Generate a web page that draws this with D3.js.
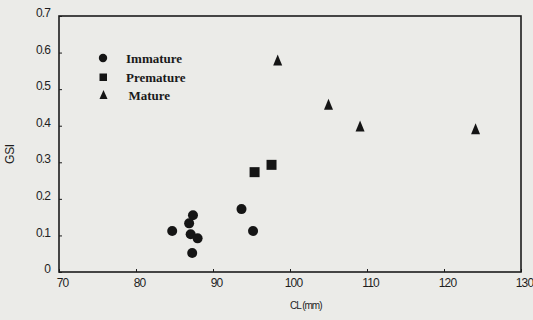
<!DOCTYPE html>
<html><head><meta charset="utf-8">
<script src="https://cdn.jsdelivr.net/npm/d3@7"></script>
<style>html,body{margin:0;padding:0;background:#ebebe8;}svg{display:block;}</style>
</head><body>
<svg id="c" width="533" height="320"></svg>
<script>
const xTicks = [70, 80, 90, 100, 110, 120, 130];
const yTicks = [0, 0.1, 0.2, 0.3, 0.4, 0.5, 0.6, 0.7];
const yTickLabels = ["0", "0.1", "0.2", "0.3", "0.4", "0.5", "0.6", "0.7"];
const immatureCL  = [84.7, 87.4, 86.9, 87.1, 88.0, 87.3, 93.7, 95.2];
const immatureGSI = [0.112, 0.155, 0.133, 0.103, 0.092, 0.052, 0.172, 0.112];
const prematureCL  = [95.4, 97.6];
const prematureGSI = [0.273, 0.293];
const matureCL  = [98.4, 105.0, 109.1, 124.1];
const matureGSI = [0.578, 0.457, 0.398, 0.390];
const legendLabels = ["Immature", "Premature", "Mature"];

const svg = d3.select("#c");
const m = {l:59, r:521, t:16, b:272};
const x = d3.scaleLinear().domain([70,130]).range([m.l, m.r]);
const y = d3.scaleLinear().domain([0,0.7]).range([m.b, m.t]);

const ink = "#151515";
svg.append("rect").attr("x", m.l).attr("y", m.t).attr("width", m.r-m.l).attr("height", m.b-m.t)
  .attr("fill","none").attr("stroke","#1c1c1c").attr("stroke-width",1.6);

const xAxis = d3.axisBottom(x).tickValues(xTicks).tickSize(-3).tickPadding(8);
const gx = svg.append("g").attr("transform",`translate(0,${m.b})`).call(xAxis);
gx.select(".domain").remove();
gx.selectAll(".tick line").attr("stroke","#1c1c1c");
gx.selectAll(".tick text").attr("font-family","Liberation Sans, Arial, sans-serif").attr("font-size",12)
  .attr("letter-spacing","-0.9").attr("fill","#1e1e1e").attr("dx",3).attr("dy","0.55em");

const yAxis = d3.axisLeft(y).tickValues(yTicks).tickSize(-3).tickPadding(9).tickFormat((d,i)=>yTickLabels[i]);
const gy = svg.append("g").attr("transform",`translate(${m.l},0)`).call(yAxis);
gy.select(".domain").remove();
gy.selectAll(".tick line").attr("stroke","#1c1c1c");
gy.selectAll(".tick text").attr("font-family","Liberation Sans, Arial, sans-serif").attr("font-size",12)
  .attr("letter-spacing","-0.9").attr("fill","#1e1e1e").attr("dy","0.05em");

svg.append("text").attr("transform","translate(14,154) rotate(-90)").attr("text-anchor","middle")
  .attr("font-family","Liberation Sans, Arial, sans-serif").attr("font-size",12).attr("letter-spacing","-0.3").attr("fill","#1e1e1e").text("GSI");
svg.append("text").attr("x",290).attr("y",309)
  .attr("font-family","Liberation Sans, Arial, sans-serif").attr("font-size",10).attr("letter-spacing","-1").attr("fill","#1e1e1e").text("CL (mm)");

const imm = immatureCL.map((c,i)=>({c, g:immatureGSI[i]}));
const pre = prematureCL.map((c,i)=>({c, g:prematureGSI[i]}));
const mat = matureCL.map((c,i)=>({c, g:matureGSI[i]}));

svg.append("g").selectAll("circle").data(imm).join("circle")
  .attr("cx",d=>x(d.c)).attr("cy",d=>y(d.g)).attr("r",5).attr("fill",ink);
svg.append("g").selectAll("path").data(pre).join("path")
  .attr("d", d3.symbol(d3.symbolSquare, 100)).attr("transform",d=>`translate(${x(d.c)},${y(d.g)})`).attr("fill",ink);
const tri = (w,h)=>`M0,${-h*0.55}L${w/2},${h*0.45}L${-w/2},${h*0.45}Z`;
svg.append("g").selectAll("path").data(mat).join("path")
  .attr("d", tri(9,11)).attr("transform",d=>`translate(${x(d.c)},${y(d.g)})`).attr("fill",ink);

const lg = svg.append("g");
const ly = [58, 77, 95];
lg.append("circle").attr("cx",103).attr("cy",ly[0]).attr("r",4.2).attr("fill",ink);
lg.append("rect").attr("x",99.5).attr("y",ly[1]-3.5).attr("width",7.5).attr("height",7.5).attr("fill",ink);
lg.append("path").attr("d",tri(8,9)).attr("transform",`translate(103.5,${ly[2]})`).attr("fill",ink);
lg.selectAll("text").data(legendLabels).join("text")
  .attr("x",(d,i)=> i===2 ? 128.5 : 126).attr("y",(d,i)=>ly[i]+4.5)
  .attr("font-family","Liberation Serif, Times New Roman, serif").attr("font-weight","bold").attr("font-size",13)
  .attr("fill","#1a1a1a").text(d=>d);
</script>
</body></html>
